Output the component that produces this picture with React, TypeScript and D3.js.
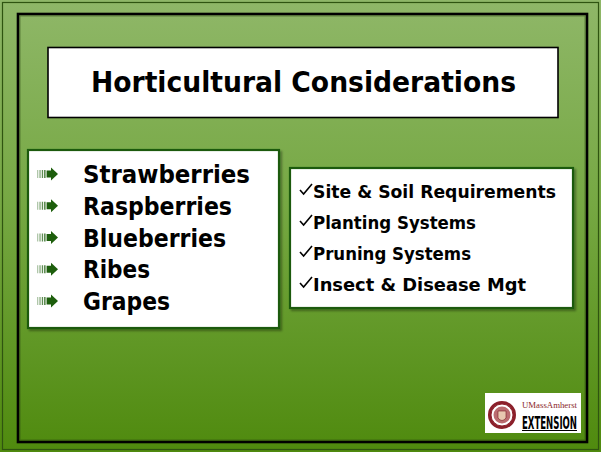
import React from "react";
import * as d3 from "d3";

const W = 601;
const H = 452;

const title = "Horticultural Considerations";
const fruits = ["Strawberries", "Raspberries", "Blueberries", "Ribes", "Grapes"];
const fruitWidths = [167, 149, 143, 67, 87];
const considerations = [
  "Site & Soil Requirements",
  "Planting Systems",
  "Pruning Systems",
  "Insect & Disease Mgt",
];
const considerationWidths = [243, 163, 158, 213];

const comic = "'Comic Sans MS', 'DejaVu Sans', sans-serif";

function Arrow({ x, y }: { x: number; y: number }) {
  const stripes = [0, 2.4, 4.8, 7.2];
  return (
    <g transform={`translate(${x},${y})`}>
      {stripes.map((s, i) => (
        <rect
          key={i}
          x={s}
          y={-4}
          width={1.3}
          height={8}
          fill="#1d5e0c"
          opacity={0.35 + i * 0.18}
        />
      ))}
      <rect x={9.6} y={-3.5} width={5} height={7} fill="#1d5e0c" />
      <path d="M14,-6.5 L21,0 L14,6.5 Z" fill="#1d5e0c" />
    </g>
  );
}

export default function App() {
  const yFruit = d3
    .scalePoint<string>()
    .domain(fruits)
    .range([183, 310]);
  const yCons = d3
    .scalePoint<string>()
    .domain(considerations)
    .range([198, 291]);

  return (
    <svg
      width={W}
      height={H}
      style={{ position: "absolute", left: 0, top: 0, display: "block" }}
    >
      <defs>
        <linearGradient id="bg" x1="0" y1="0" x2="0" y2="1">
          <stop offset="0" stopColor="#8fb768" />
          <stop offset="0.45" stopColor="#76a843" />
          <stop offset="1" stopColor="#4f8a0e" />
        </linearGradient>
        <filter id="sh" x="-5%" y="-5%" width="110%" height="110%">
          <feDropShadow dx="2" dy="2" stdDeviation="1.2" floodColor="#000" floodOpacity="0.35" />
        </filter>
      </defs>
      <rect x={0} y={0} width={W} height={H} fill="url(#bg)" />
      <rect x={2.5} y={2.5} width={W - 5} height={H - 5} fill="none" stroke="#2f5410" strokeWidth={1.2} />
      {/* inner black frame */}
      <rect x={18} y={14} width={569} height={428} fill="none" stroke="#000" strokeWidth={2.6} />
      <rect x={20} y={16} width={565} height={424} fill="none" stroke="#2c4a12" strokeWidth={0.8} opacity={0.6} />

      {/* title box */}
      <rect x={48} y={47.5} width={510} height={70} fill="#fff" stroke="#000" strokeWidth={1.6} />
      <text
        x={303.5}
        y={92}
        textAnchor="middle"
        fontFamily="'DejaVu Sans', Verdana, sans-serif"
        fontWeight="bold"
        fontSize={28}
        textLength={425}
        lengthAdjust="spacingAndGlyphs"
        fill="#000"
      >
        {title}
      </text>

      {/* left list box */}
      <rect x={28} y={150} width={251} height={178} fill="#fff" stroke="#1d5a0c" strokeWidth={2.2} filter="url(#sh)" />
      {fruits.map((f, i) => {
        const y = yFruit(f)!;
        return (
          <g key={f}>
            <Arrow x={37} y={y - 9} />
            <text
              x={83}
              y={y}
              fontFamily={comic}
              fontWeight="bold"
              fontSize={24}
              textLength={fruitWidths[i]}
              lengthAdjust="spacingAndGlyphs"
              fill="#000"
            >
              {f}
            </text>
          </g>
        );
      })}

      {/* right list box */}
      <rect x={290} y={168} width={283} height={140} fill="#fff" stroke="#1d5a0c" strokeWidth={2.2} filter="url(#sh)" />
      {considerations.map((c, i) => {
        const y = yCons(c)!;
        return (
          <g key={c}>
            <path
              d={`M300,${y - 8} L303.6,${y - 4} L312,${y - 14}`}
              fill="none"
              stroke="#000"
              strokeWidth={1.6}
            />
            <text
              x={313}
              y={y}
              fontFamily={comic}
              fontWeight="bold"
              fontSize={18.5}
              textLength={considerationWidths[i]}
              lengthAdjust="spacingAndGlyphs"
              fill="#000"
            >
              {c}
            </text>
          </g>
        );
      })}

      {/* logo */}
      <g>
        <rect x={485} y={393} width={96} height={40} fill="#fff" />
        <circle cx={502} cy={415} r={14} fill="#8b1f2a" />
        <circle cx={502} cy={415} r={11} fill="#fff" stroke="#8b1f2a" strokeWidth={1} />
        <circle cx={502} cy={415} r={8.5} fill="#a33a3f" opacity={0.75} />
        <path d="M498,411 L506,411 L506,418 Q502,423 498,418 Z" fill="#e8c8b0" stroke="#7a1a22" strokeWidth={0.6} />
        <text
          x={522}
          y={408}
          fontFamily="'Liberation Serif', 'DejaVu Serif', serif"
          fontSize={8.5}
          textLength={55}
          lengthAdjust="spacingAndGlyphs"
          fill="#8b1f2a"
        >
          UMassAmherst
        </text>
        <g transform="translate(522,428.5) scale(1,1.7)">
          <text
            x={0}
            y={0}
            fontFamily="'DejaVu Sans Condensed', 'Liberation Sans Narrow', sans-serif"
            fontWeight="bold"
            fontSize={10}
            textLength={55}
            lengthAdjust="spacingAndGlyphs"
            fill="#000"
          >
            EXTENSION
          </text>
        </g>
        <line x1={522} y1={430.5} x2={577} y2={430.5} stroke="#000" strokeWidth={1} />
      </g>
    </svg>
  );
}
